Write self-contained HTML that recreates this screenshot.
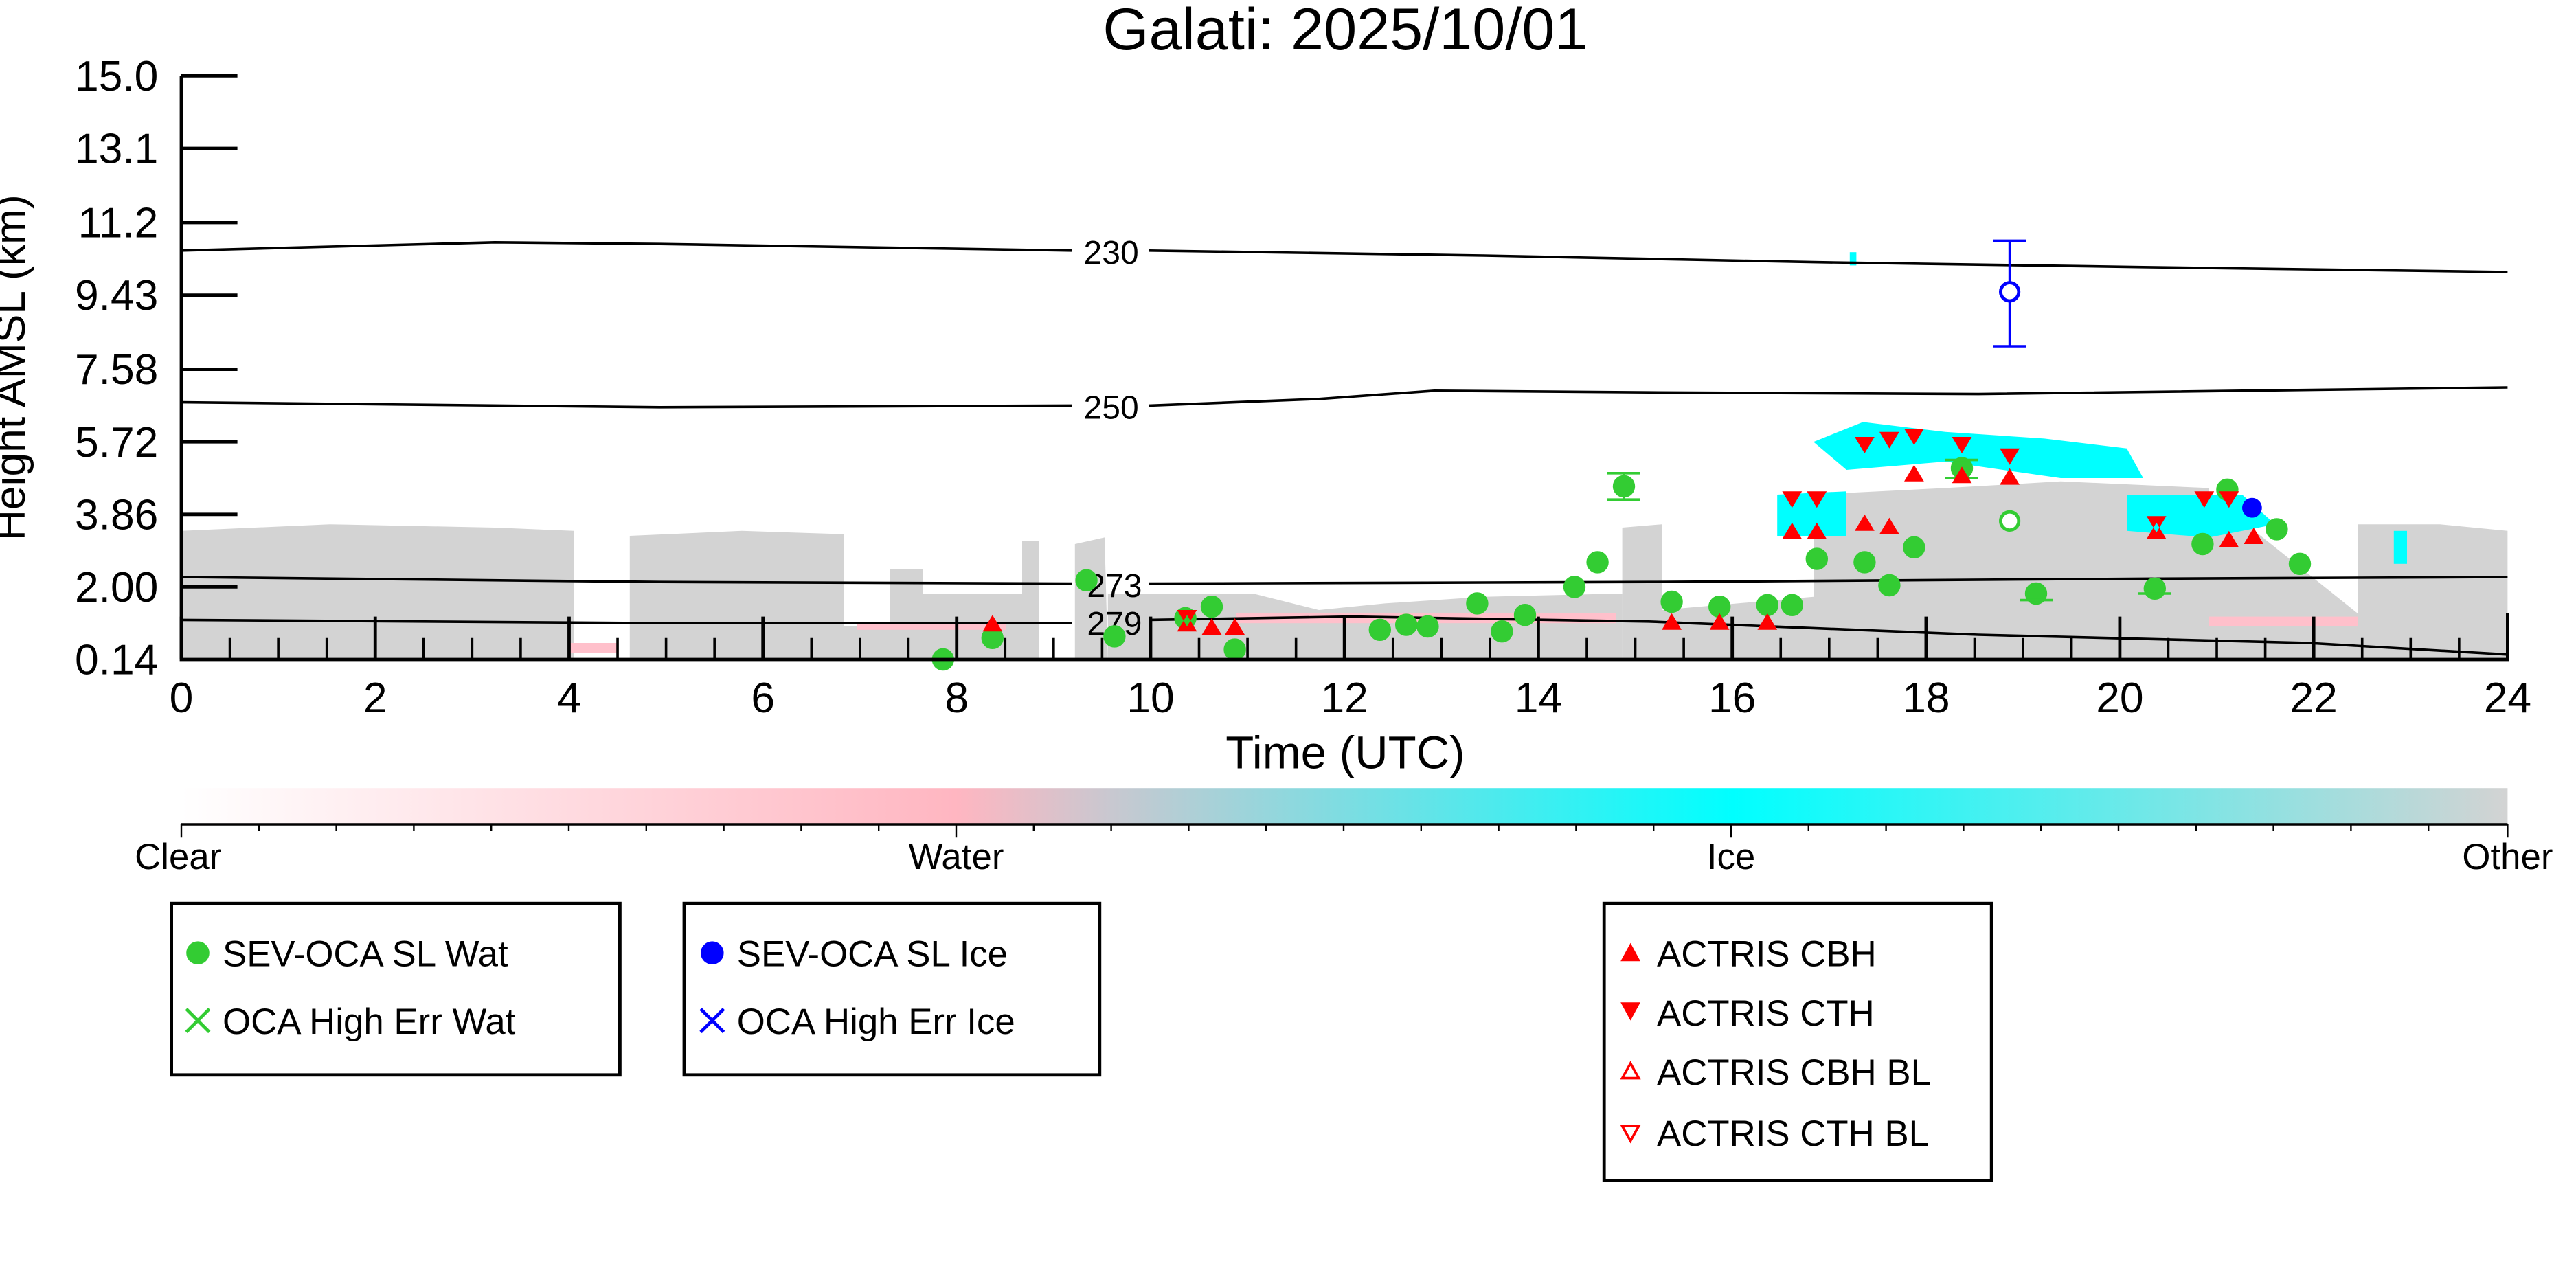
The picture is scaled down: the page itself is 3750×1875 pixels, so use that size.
<!DOCTYPE html>
<html><head><meta charset="utf-8"><style>html,body{margin:0;padding:0;background:#fff}svg{display:block}</style></head>
<body>
<svg width="3750" height="1875" viewBox="0 0 1562.5 781.25" xmlns="http://www.w3.org/2000/svg" font-family="Liberation Sans, sans-serif">
<defs>
<linearGradient id="cb" x1="0" x2="1">
<stop offset="0" stop-color="#ffffff"/>
<stop offset="0.333" stop-color="#ffb6c1"/>
<stop offset="0.4" stop-color="#c8c8d0"/>
<stop offset="0.667" stop-color="#00ffff"/>
<stop offset="1" stop-color="#d3d3d3"/>
</linearGradient>
</defs>
<rect width="1562.5" height="781.25" fill="#fff"/>
<text x="816" y="30" font-size="36" text-anchor="middle">Galati: 2025/10/01</text>
<!-- gray other regions -->
<g fill="#d3d3d3">
<polygon points="110,400 110,322 200,318 300,320 348,322 348,400"/>
<polygon points="382,400 382,325 450,322 512,324 512,400"/>
<polygon points="512,400 512,380 540,380 540,345 560,345 560,400"/>
<polygon points="560,400 560,360 620,360 620,328 630,328 630,400"/>
<polygon points="652,400 652,330 670,326 672,400"/>
<polygon points="672,400 672,360 760,360 800,370 840,366 900,362 984,360 984,400"/>
<polygon points="984,400 984,320 1008,318 1008,400"/>
<polygon points="1008,400 1008,370 1100,362 1100,300 1180,296 1250,292 1340,296 1340,300 1430,372 1430,400"/>
<polygon points="1430,400 1430,318 1480,318 1521,322 1521,400"/>
</g>
<g fill="#ffc0cb">
<rect x="750" y="372" width="230" height="6"/>
<rect x="1340" y="374" width="90" height="6"/>
<rect x="520" y="378" width="90" height="4"/>
<rect x="345" y="390" width="30" height="6"/>
</g>
<g fill="#00ffff">
<polygon points="1100,268 1130,256 1180,262 1240,266 1290,272 1300,290 1250,290 1180,280 1120,285"/>
<polygon points="1078,300 1120,298 1120,325 1078,325"/>
<polygon points="1290,300 1360,300 1380,318 1340,326 1290,322"/>
<rect x="1452" y="322" width="8" height="20"/>
<rect x="1122" y="153" width="4" height="8"/>
</g>
<!-- contours -->
<g fill="none" stroke="#000" stroke-width="1.5">
<path d="M110,152 L300,147 L400,148 L650,152 M697,152 L900,155 L1100,159 L1300,162 L1521,165"/>
<path d="M110,244 L400,247 L650,246 M697,246 L800,242 L870,237 L1000,238 L1200,239 L1521,235"/>
<path d="M110,350 L400,353 L650,354 M697,354 L1000,353 L1300,351 L1521,350"/>
<path d="M110,376 L400,378 L650,378 M697,376 L820,374 L1000,377 L1200,385 L1400,390 L1521,397"/>
</g>
<g font-size="20" text-anchor="middle">
<text x="674" y="160">230</text><text x="674" y="254">250</text>
<text x="676" y="362">273</text><text x="676" y="385">279</text>
</g>
<!-- points -->
<g stroke="#33cc33" stroke-width="1.5" fill="#33cc33">
<g id="pts">
<circle cx="602" cy="387" r="6"/><circle cx="572" cy="400" r="6"/><circle cx="659" cy="352" r="6"/><circle cx="676" cy="386" r="6"/>
<circle cx="719" cy="375" r="6"/><circle cx="735" cy="368" r="6"/><circle cx="749" cy="394" r="6"/><circle cx="837" cy="382" r="6"/>
<circle cx="853" cy="379" r="6"/><circle cx="866" cy="380" r="6"/><circle cx="896" cy="366" r="6"/><circle cx="911" cy="383" r="6"/>
<circle cx="925" cy="373" r="6"/><circle cx="955" cy="356" r="6"/><circle cx="969" cy="341" r="6"/><circle cx="985" cy="295" r="6"/>
<circle cx="1014" cy="365" r="6"/><circle cx="1043" cy="368" r="6"/><circle cx="1072" cy="367" r="6"/><circle cx="1087" cy="367" r="6"/>
<circle cx="1102" cy="339" r="6"/><circle cx="1131" cy="341" r="6"/><circle cx="1146" cy="355" r="6"/><circle cx="1161" cy="332" r="6"/>
<circle cx="1190" cy="284" r="6"/><circle cx="1235" cy="360" r="6"/><circle cx="1307" cy="357" r="6"/><circle cx="1336" cy="330" r="6"/>
<circle cx="1351" cy="297" r="6"/><circle cx="1381" cy="321" r="6"/><circle cx="1395" cy="342" r="6"/>
</g>
<path d="M975,287h20M985,287v16M975,303h20M1180,279h20M1180,290h20M1225,364h20M1297,360h20" fill="none"/>
<circle cx="1219" cy="316" r="5.5" fill="#fff" stroke-width="2"/>
</g>
<g fill="#ff0000">
<path d="M714,383l6,-10l6,10zM714,370l6,10l6,-10zM729,385l6,-10l6,10zM743,385l6,-10l6,10zM596,383l6,-10l6,10z"/>
<path d="M1008,382l6,-10l6,10zM1037,382l6,-10l6,10zM1066,382l6,-10l6,10z"/>
<path d="M1081,327l6,-10l6,10zM1096,327l6,-10l6,10zM1081,298l6,10l6,-10zM1096,298l6,10l6,-10z"/>
<path d="M1125,265l6,10l6,-10zM1140,262l6,10l6,-10zM1155,260l6,10l6,-10zM1184,265l6,10l6,-10zM1213,272l6,10l6,-10z"/>
<path d="M1125,322l6,-10l6,10zM1140,324l6,-10l6,10zM1155,292l6,-10l6,10zM1184,293l6,-10l6,10zM1213,294l6,-10l6,10z"/>
<path d="M1302,313l6,10l6,-10zM1302,327l6,-10l6,10zM1331,298l6,10l6,-10zM1346,298l6,10l6,-10zM1346,332l6,-10l6,10zM1361,330l6,-10l6,10z"/>
</g>
<circle cx="1366" cy="308" r="6" fill="#0000ff"/>
<g stroke="#0000ff" stroke-width="1.5" fill="none">
<path d="M1219,146v64M1209,146h20M1209,210h20"/>
<circle cx="1219" cy="177" r="5.5" fill="#fff" stroke-width="2"/>
</g>
<!-- axes -->
<g stroke="#000" stroke-width="2" fill="none">
<path d="M110,46V400H1521V372"/>
<path d="M110,46h34M110,90h34M110,135h34M110,179h34M110,224h34M110,268h34M110,312h34M110,356h34"/>
<path d="M110,400v-26M227.6,400v-26M345.2,400v-26M462.8,400v-26M580.3,400v-26M697.9,400v-26M815.5,400v-26M933.1,400v-26M1050.7,400v-26M1168.3,400v-26M1285.8,400v-26M1403.4,400v-26"/>
<path stroke-width="1.5" d="M139.4,400v-13M168.8,400v-13M198.2,400v-13M257,400v-13M286.4,400v-13M315.8,400v-13M374.6,400v-13M404,400v-13M433.4,400v-13M492.2,400v-13M521.6,400v-13M551,400v-13M609.7,400v-13M639.1,400v-13M668.5,400v-13M727.3,400v-13M756.7,400v-13M786.1,400v-13M844.9,400v-13M874.3,400v-13M903.7,400v-13M962.5,400v-13M991.9,400v-13M1021.3,400v-13M1080.1,400v-13M1109.5,400v-13M1138.9,400v-13M1197.7,400v-13M1227.1,400v-13M1256.5,400v-13M1315.2,400v-13M1344.6,400v-13M1374,400v-13M1432.8,400v-13M1462.2,400v-13M1491.6,400v-13"/>
</g>
<g font-size="26" text-anchor="end">
<text x="96" y="55">15.0</text><text x="96" y="99">13.1</text><text x="96" y="144">11.2</text><text x="96" y="188">9.43</text>
<text x="96" y="233">7.58</text><text x="96" y="277">5.72</text><text x="96" y="321">3.86</text><text x="96" y="365">2.00</text><text x="96" y="409">0.14</text>
</g>
<g font-size="26" text-anchor="middle">
<text x="110" y="432">0</text><text x="227.6" y="432">2</text><text x="345.2" y="432">4</text><text x="462.8" y="432">6</text>
<text x="580.3" y="432">8</text><text x="697.9" y="432">10</text><text x="815.5" y="432">12</text><text x="933.1" y="432">14</text>
<text x="1050.7" y="432">16</text><text x="1168.3" y="432">18</text><text x="1285.8" y="432">20</text><text x="1403.4" y="432">22</text><text x="1521" y="432">24</text>
<text x="816" y="466" font-size="28">Time (UTC)</text>
</g>
<text transform="translate(15,223) rotate(-90)" font-size="26" text-anchor="middle">Height AMSL (km)</text>
<!-- colorbar -->
<rect x="110" y="478" width="1411" height="22" fill="url(#cb)"/>
<path d="M110,500H1521" stroke="#000" stroke-width="1.5"/>
<g stroke="#000" stroke-width="1">
<path d="M110,500v8M580,500v8M1050,500v8M1521,500v8"/>
<path d="M157,500v4M204,500v4M251,500v4M298,500v4M345,500v4M392,500v4M439,500v4M486,500v4M533,500v4M627,500v4M674,500v4M721,500v4M768,500v4M815,500v4M862,500v4M909,500v4M956,500v4M1003,500v4M1097,500v4M1144,500v4M1191,500v4M1238,500v4M1285,500v4M1332,500v4M1379,500v4M1426,500v4M1473,500v4"/>
</g>
<g font-size="22" text-anchor="middle">
<text x="108" y="527">Clear</text><text x="580" y="527">Water</text><text x="1050" y="527">Ice</text><text x="1521" y="527">Other</text>
</g>
<!-- legends -->
<g fill="none" stroke="#000" stroke-width="2">
<rect x="104" y="548" width="272" height="104"/>
<rect x="415" y="548" width="252" height="104"/>
<rect x="973" y="548" width="235" height="168"/>
</g>
<g font-size="22">
<circle cx="120" cy="578" r="7" fill="#33cc33"/><text x="135" y="586">SEV-OCA SL Wat</text>
<path d="M113,612l14,14M127,612l-14,14" stroke="#33cc33" stroke-width="2"/><text x="135" y="627">OCA High Err Wat</text>
<circle cx="432" cy="578" r="7" fill="#0000ff"/><text x="447" y="586">SEV-OCA SL Ice</text>
<path d="M425,612l14,14M439,612l-14,14" stroke="#0000ff" stroke-width="2"/><text x="447" y="627">OCA High Err Ice</text>
<path d="M983,583l6,-11l6,11z" fill="#f00"/><text x="1005" y="586">ACTRIS CBH</text>
<path d="M983,608l6,11l6,-11z" fill="#f00"/><text x="1005" y="622">ACTRIS CTH</text>
<path d="M984,654l5,-9l5,9z" fill="none" stroke="#f00" stroke-width="1.5"/><text x="1005" y="658">ACTRIS CBH BL</text>
<path d="M984,683l5,9l5,-9z" fill="none" stroke="#f00" stroke-width="1.5"/><text x="1005" y="695">ACTRIS CTH BL</text>
</g>
</svg>
</body></html>
